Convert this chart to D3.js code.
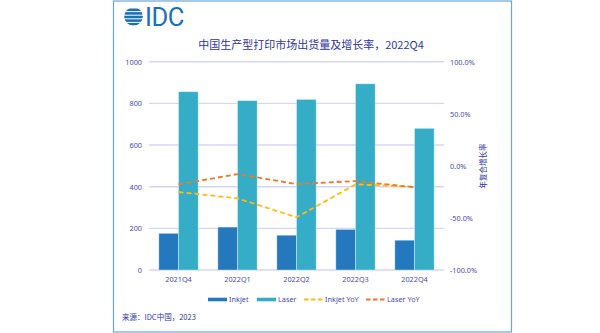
<!DOCTYPE html>
<html>
<head>
<meta charset="utf-8">
<script src="https://cdn.jsdelivr.net/npm/d3@7"></script>
<style>
  body { margin: 0; background: #fff; }
  text { font-family: "Noto Sans", "Noto Sans CJK SC", sans-serif; }
</style>
</head>
<body>
<div id="chart"></div>
<script>
const quarters  = ['2021Q4', '2022Q1', '2022Q2', '2022Q3', '2022Q4'];
const inkjet    = [176, 206, 167, 195, 143];
const laser     = [856, 813, 819, 894, 680];
const inkjetYoY = [-25.1, -31.2, -49.4, -17.8, -20.0];
const laserYoY  = [-17.8, -7.9, -17.5, -14.6, -20.6];
const leftTicks  = [0, 200, 400, 600, 800, 1000];
const rightTicks = [-100, -50, 0, 50, 100];

const COLORS = {
  inkjet:    '#2479be',
  laser:     '#35adc7',
  inkjetYoY: '#fbbd12',
  laserYoY:  '#f0782a',
  grid:      '#d6d6f6',
  tick:      '#4b4bab',
  title:     '#3035a0',
  frame:     '#6aa6d8',
  logo:      '#1d6fb8'
};

const W = 600, H = 333;
const plot = { left: 149, right: 444, top: 61.7, bottom: 270 };

const svg = d3.select('#chart').append('svg')
  .attr('width', W)
  .attr('height', H);

// Outer frame
svg.append('rect')
  .attr('x', 113.5).attr('y', 1)
  .attr('width', 398).attr('height', 331)
  .style('fill', 'none')
  .style('stroke', COLORS.frame)
  .style('stroke-width', 1.2);

// Logo: striped globe + wordmark
const logo = svg.append('g').attr('transform', 'translate(133.5,16.5)');
logo.append('clipPath').attr('id', 'globe')
  .append('circle').attr('r', 9.3);
const stripes = [-8, -4.4, -0.8, 2.8, 6.4];
logo.append('g').attr('clip-path', 'url(#globe)')
  .selectAll('rect').data(stripes)
  .enter().append('rect')
    .attr('x', -10).attr('y', d => d)
    .attr('width', 20).attr('height', 2.6)
    .style('fill', COLORS.logo);
svg.append('text')
  .text('IDC')
  .attr('x', 145).attr('y', 25.5)
  .attr('font-size', 25.5)
  .style('font-family', 'Roboto, sans-serif')
  .style('letter-spacing', '-0.5px')
  .style('fill', COLORS.logo);

// Title
svg.append('text')
  .text('中国生产型打印市场出货量及增长率，2022Q4')
  .attr('x', 311).attr('y', 49)
  .attr('text-anchor', 'middle')
  .attr('font-size', 11)
  .style('font-family', '"Noto Sans CJK SC", sans-serif')
  .style('fill', COLORS.title);

// Scales
const x = d3.scaleBand()
  .domain(quarters)
  .range([plot.left, plot.right])
  .paddingInner(0.333)
  .paddingOuter(0.1667);
const xSub = d3.scaleBand()
  .domain(['inkjet', 'laser'])
  .range([0, x.bandwidth()]);
const yLeft = d3.scaleLinear().domain([0, 1000]).range([plot.bottom, plot.top]);
const yRight = d3.scaleLinear().domain([-100, 100]).range([plot.bottom, plot.top]);

// Gridlines
svg.append('g').selectAll('line').data(leftTicks)
  .enter().append('line')
    .attr('x1', plot.left).attr('x2', plot.right)
    .attr('y1', d => yLeft(d)).attr('y2', d => yLeft(d))
    .style('stroke', COLORS.grid)
    .style('stroke-width', 1.4);

// Axes
const axisL = svg.append('g')
  .attr('transform', `translate(${plot.left - 7},0)`)
  .call(d3.axisLeft(yLeft).tickValues(leftTicks).tickSize(0).tickPadding(0)
    .tickFormat(d3.format('d')));
const axisR = svg.append('g')
  .attr('transform', `translate(${plot.right + 6},0)`)
  .call(d3.axisRight(yRight).tickValues(rightTicks).tickSize(0).tickPadding(0)
    .tickFormat(d => d.toFixed(1) + '%'));
const axisB = svg.append('g')
  .attr('transform', `translate(0,${plot.bottom + 7})`)
  .call(d3.axisBottom(x).tickSize(0).tickPadding(0));
for (let a of [axisL, axisR, axisB]) {
  a.select('.domain').remove();
  a.selectAll('text')
    .attr('font-size', 7.3)
    .style('fill', COLORS.tick);
}

// Right axis title
svg.append('text')
  .text('年复合增长率')
  .attr('transform', 'translate(486,166) rotate(-90)')
  .attr('text-anchor', 'middle')
  .attr('font-size', 7.5)
  .style('font-family', '"Noto Sans CJK SC", sans-serif')
  .style('fill', COLORS.title);

// Bars
const groups = svg.append('g').selectAll('.quarter')
    .data(quarters)
  .enter().append('g')
    .attr('class', 'quarter')
    .attr('transform', d => `translate(${x(d)},0)`);
groups.append('rect')
  .attr('x', xSub('inkjet'))
  .attr('y', (d, i) => yLeft(inkjet[i]))
  .attr('width', xSub.bandwidth())
  .attr('height', (d, i) => yLeft(0) - yLeft(inkjet[i]))
  .style('fill', COLORS.inkjet)
  .style('stroke', 'rgba(255,255,255,0.45)')
  .style('stroke-width', 0.8);
groups.append('rect')
  .attr('x', xSub('laser'))
  .attr('y', (d, i) => yLeft(laser[i]))
  .attr('width', xSub.bandwidth())
  .attr('height', (d, i) => yLeft(0) - yLeft(laser[i]))
  .style('fill', COLORS.laser)
  .style('stroke', 'rgba(255,255,255,0.45)')
  .style('stroke-width', 0.8);

// YoY lines
const line = d3.line()
  .x((d, i) => x(quarters[i]) + x.bandwidth() / 2)
  .y(d => yRight(d));
for (let [vals, color] of [[inkjetYoY, COLORS.inkjetYoY], [laserYoY, COLORS.laserYoY]]) {
  svg.append('path')
    .datum(vals)
    .attr('d', line)
    .style('fill', 'none')
    .style('stroke', color)
    .style('stroke-width', 1.8)
    .style('stroke-dasharray', '5,3');
}

// Legend
const legendItems = [
  { name: 'Inkjet',     color: COLORS.inkjet,    type: 'bar',  x: 208 },
  { name: 'Laser',      color: COLORS.laser,     type: 'bar',  x: 257 },
  { name: 'Inkjet YoY', color: COLORS.inkjetYoY, type: 'line', x: 304 },
  { name: 'Laser YoY',  color: COLORS.laserYoY,  type: 'line', x: 366 }
];
const legend = svg.append('g').selectAll('.legend')
    .data(legendItems)
  .enter().append('g')
    .attr('class', 'legend')
    .attr('transform', d => `translate(${d.x},299.5)`);
legend.filter(d => d.type === 'bar').append('rect')
  .attr('x', 0).attr('y', -1.8)
  .attr('width', 19).attr('height', 3.6)
  .style('fill', d => d.color);
legend.filter(d => d.type === 'line').append('line')
  .attr('x1', 0).attr('x2', 19)
  .style('stroke', d => d.color)
  .style('stroke-width', 1.8)
  .style('stroke-dasharray', '4.5,2.5');
legend.append('text')
  .text(d => d.name)
  .attr('x', 21).attr('y', 2.6)
  .attr('font-size', 7.3)
  .style('fill', COLORS.tick);

// Source note
svg.append('text')
  .text('来源：IDC中国，2023')
  .attr('x', 122).attr('y', 319.5)
  .attr('font-size', 7.5)
  .style('font-family', '"Noto Sans CJK SC", sans-serif')
  .style('fill', COLORS.title);
</script>
</body>
</html>
